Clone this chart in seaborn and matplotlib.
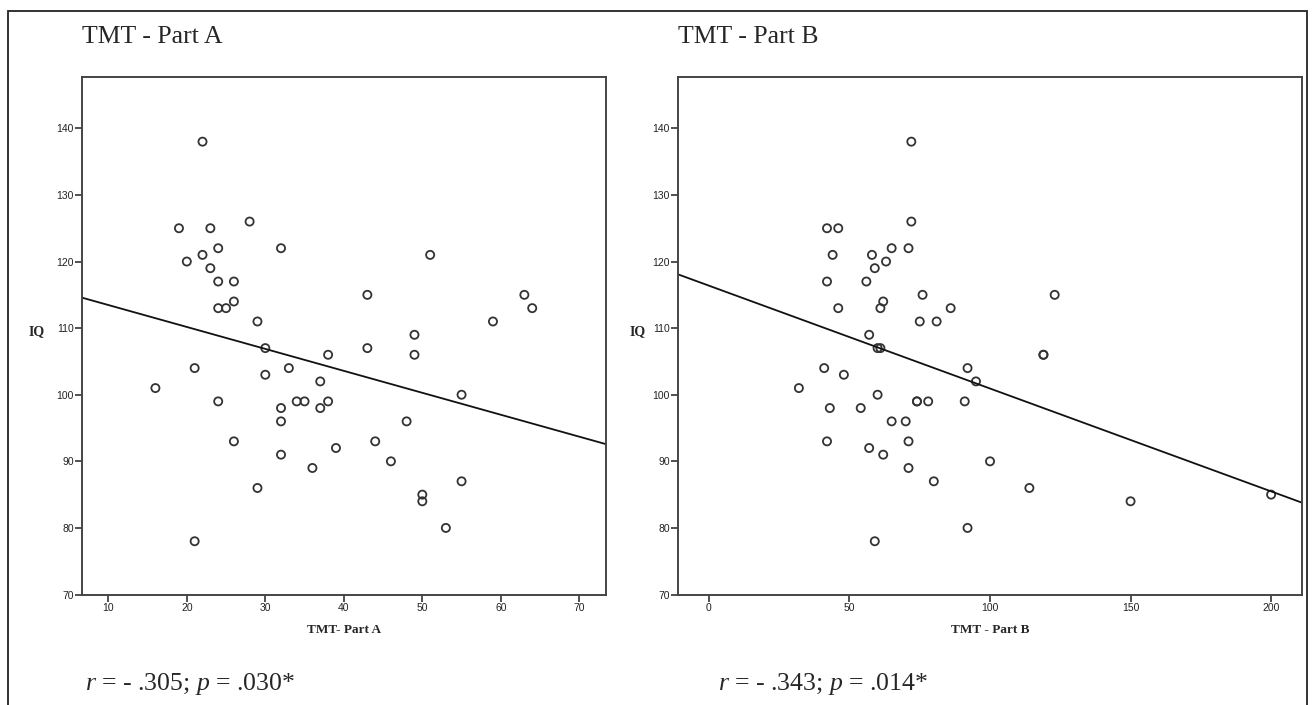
import numpy as np
import pandas as pd
import matplotlib
matplotlib.use("Agg")
import matplotlib.pyplot as plt
import matplotlib.patches as patches
import seaborn as sns

# values (same 51 subjects in each)
tmt_a = [22, 19, 23, 28, 24, 32, 22, 20, 23, 24, 26, 24, 25, 26, 29,
         51, 43, 63, 64, 59, 49,
         30, 21, 33, 38, 16, 30, 37, 24, 34, 35, 38, 32, 37, 32, 26, 39, 32, 36, 29, 21,
         43, 49, 55, 48, 44, 46, 55, 50, 50, 53]
iq_a = [138, 125, 125, 126, 122, 122, 121, 120, 119, 117, 117, 113, 113, 114, 111,
        121, 115, 115, 113, 111, 109,
        107, 104, 104, 106, 101, 103, 102, 99, 99, 99, 99, 98, 98, 96, 93, 92, 91, 89, 86, 78,
        107, 106, 100, 96, 93, 90, 87, 85, 84, 80]

tmt_b = [72, 42, 46, 72, 44, 58, 65, 71, 63, 59, 42, 56, 76, 62, 61, 46, 86, 75, 81, 57,
         123, 60, 61, 41, 92, 48, 32, 95, 60, 74, 74, 78, 91, 43, 54, 65, 70, 42, 71,
         57, 62, 71, 80, 92, 59, 100, 119, 119, 114, 150, 200]
iq_b = [138, 125, 125, 126, 121, 121, 122, 122, 120, 119, 117, 117, 115, 114, 113, 113, 113, 111, 111, 109,
        115, 107, 107, 104, 104, 103, 101, 102, 100, 99, 99, 99, 99, 98, 98, 96, 96, 93, 93,
        92, 91, 89, 87, 80, 78, 90, 106, 106, 86, 84, 85]

titles = ["TMT - Part A", "TMT - Part B"]
xlabels = ["TMT- Part A", "TMT - Part B"]
stats_text = [r"$r$ = - .305; $p$ = .030*", r"$r$ = - .343; $p$ = .014*"]

df_a = pd.DataFrame({"x": tmt_a, "IQ": iq_a})
df_b = pd.DataFrame({"x": tmt_b, "IQ": iq_b})

sns.set_style("ticks")
plt.rcParams['font.family'] = ['Liberation Sans', 'DejaVu Sans']
plt.rcParams['mathtext.fontset'] = 'custom'
plt.rcParams['mathtext.it'] = 'Liberation Serif:italic'
plt.rcParams['mathtext.rm'] = 'Liberation Serif'

fig = plt.figure(figsize=(13.12, 7.05), dpi=100)

# axes boxes in figure fractions
ax_a = fig.add_axes([0.0625, 0.1567, 0.3994, 0.734])
ax_b = fig.add_axes([0.517, 0.1567, 0.4754, 0.734])

panels = [
    (ax_a, df_a, (6.65, 73.4), [10, 20, 30, 40, 50, 60, 70], -0.086),
    (ax_b, df_b, (-10.9, 211), [0, 50, 100, 150, 200], -0.066),
]

for i, (ax, d, xlim, xticks, iq_x) in enumerate(panels):
    ax.set_xlim(*xlim)
    ax.set_ylim(70, 147.7)
    sns.scatterplot(data=d, x="x", y="IQ", ax=ax, marker="o", s=34,
                    facecolor="none", edgecolor="#333333", linewidth=1.3)
    # fit line over the whole x range
    sns.regplot(data=d, x="x", y="IQ", ax=ax, ci=None, scatter=False,
                truncate=False, color="#111111", line_kws={"linewidth": 1.3})
    ax.set_xlim(*xlim)
    ax.set_ylim(70, 147.7)
    ax.set_xticks(xticks)
    ax.set_yticks([70, 80, 90, 100, 110, 120, 130, 140])
    ax.tick_params(axis="both", direction="out", length=5, width=1.2,
                   color="#333333", labelsize=7.5, pad=1, labelcolor="#222222",
                   top=False, right=False)
    for s in ax.spines.values():
        s.set_visible(True)
        s.set_linewidth(1.4)
        s.set_color("#444444")
    ax.set_xlabel(xlabels[i], fontsize=9.5, fontweight="bold",
                  family=["Liberation Serif"], labelpad=8)
    ax.set_ylabel("IQ", fontsize=10, fontweight="bold", rotation=0,
                  family=["Liberation Serif"])
    ax.yaxis.set_label_coords(iq_x, 0.496)

# panel titles and correlation notes
fig.text(82 / 1312, 1 - 37 / 705, titles[0], fontsize=18.5,
         family=["Liberation Serif"], va="center", ha="left")
fig.text(678 / 1312, 1 - 37 / 705, titles[1], fontsize=18.5,
         family=["Liberation Serif"], va="center", ha="left")
fig.text(85 / 1312, 1 - 684 / 705, stats_text[0], fontsize=18.5,
         family=["Liberation Serif"], va="center", ha="left")
fig.text(718 / 1312, 1 - 684 / 705, stats_text[1], fontsize=18.5,
         family=["Liberation Serif"], va="center", ha="left")

# outer frame of the figure
frame = patches.Rectangle((8 / 1312, -0.05), 1299 / 1312, 1.05 - 11 / 705,
                          transform=fig.transFigure, fill=False,
                          edgecolor="#222222", linewidth=1.3, clip_on=False)
fig.patches.append(frame)

fig.savefig("out.png", dpi=100, facecolor="white")
